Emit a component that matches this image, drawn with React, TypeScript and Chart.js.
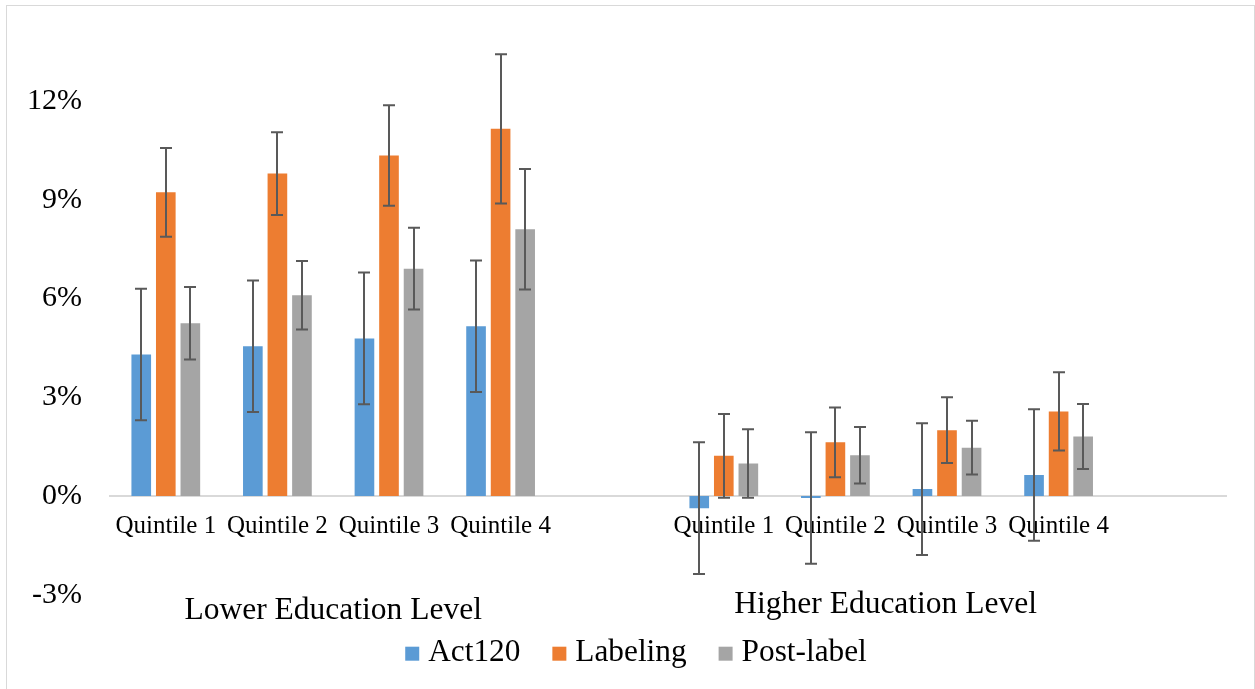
import React, { useEffect, useRef } from 'react';
import { Chart, registerables } from 'chart.js';

Chart.register(...registerables);

const categories = ['Quintile 1', 'Quintile 2', 'Quintile 3', 'Quintile 4', '', 'Quintile 1', 'Quintile 2', 'Quintile 3', 'Quintile 4', ''];
const groupLabels = ['Lower Education Level', 'Higher Education Level'];
const seriesNames = ['Act120', 'Labeling', 'Post-label'];
const seriesColors = ['#5B9BD5', '#ED7D31', '#A5A5A5'];

const act120 = [4.30, 4.55, 4.79, 5.16, null, -0.37, -0.06, 0.21, 0.64, null];
const act120Err = [2.0, 2.0, 2.0, 2.0, null, 2.0, 2.0, 2.0, 2.0, null];
const labeling = [9.23, 9.80, 10.35, 11.16, null, 1.22, 1.63, 2.00, 2.57, null];
const labelingErr = [1.35, 1.26, 1.53, 2.27, null, 1.27, 1.06, 1.00, 1.19, null];
const postLabel = [5.25, 6.10, 6.91, 8.11, null, 0.99, 1.24, 1.47, 1.81, null];
const postLabelErr = [1.10, 1.04, 1.24, 1.83, null, 1.04, 0.86, 0.82, 0.99, null];

const yTicks = [-3, 0, 3, 6, 9, 12];

const FONT = '"Liberation Serif", "Times New Roman", serif';

const errorBarPlugin = {
  id: 'errorBars',
  afterDatasetsDraw(chart: any) {
    const ctx = chart.ctx;
    const y = chart.scales.y;
    ctx.save();
    ctx.strokeStyle = '#595959';
    ctx.lineWidth = 2;
    chart.data.datasets.forEach((ds: any, di: number) => {
      const meta = chart.getDatasetMeta(di);
      meta.data.forEach((bar: any, i: number) => {
        const v = ds.data[i];
        const e = ds.errors[i];
        if (v == null || e == null) return;
        const top = y.getPixelForValue(v + e);
        const bot = y.getPixelForValue(v - e);
        const x = Math.round(bar.x);
        ctx.beginPath();
        ctx.moveTo(x, top);
        ctx.lineTo(x, bot);
        ctx.moveTo(x - 6, top);
        ctx.lineTo(x + 6, top);
        ctx.moveTo(x - 6, bot);
        ctx.lineTo(x + 6, bot);
        ctx.stroke();
      });
    });
    ctx.restore();
  },
};

const labelsPlugin = {
  id: 'groupAndLegend',
  afterDraw(chart: any) {
    const ctx = chart.ctx;
    const xs = chart.scales.x;
    const area = chart.chartArea;
    ctx.save();
    ctx.fillStyle = '#000';
    ctx.textBaseline = 'alphabetic';
    ctx.textAlign = 'center';
    ctx.font = `31.5px ${FONT}`;
    ctx.fillText(groupLabels[0], xs.getPixelForValue(1.5), area.bottom + 24);
    ctx.fillText(groupLabels[1], xs.getPixelForValue(6.45), area.bottom + 18);

    // legend
    ctx.font = `31.3px ${FONT}`;
    ctx.textAlign = 'left';
    const box = 14;
    const gapText = 9;
    const gapItem = 32;
    const widths = seriesNames.map((n) => ctx.measureText(n).width);
    const total = widths.reduce((a, b) => a + b, 0) + seriesNames.length * (box + gapText) + (seriesNames.length - 1) * gapItem;
    let x = 636 - total / 2;
    const baseline = area.bottom + 66;
    seriesNames.forEach((n, i) => {
      ctx.fillStyle = seriesColors[i];
      ctx.fillRect(x, baseline - box, box, box);
      x += box + gapText;
      ctx.fillStyle = '#000';
      ctx.fillText(n, x, baseline);
      x += widths[i] + gapItem;
    });
    ctx.restore();
  },
};

export default function App() {
  const ref = useRef<HTMLCanvasElement | null>(null);

  useEffect(() => {
    if (!ref.current) return;
    const chart = new Chart(ref.current, {
      type: 'bar',
      data: {
        labels: categories,
        datasets: [
          { label: seriesNames[0], data: act120, errors: act120Err, backgroundColor: seriesColors[0] } as any,
          { label: seriesNames[1], data: labeling, errors: labelingErr, backgroundColor: seriesColors[1] } as any,
          { label: seriesNames[2], data: postLabel, errors: postLabelErr, backgroundColor: seriesColors[2] } as any,
        ],
      },
      options: {
        responsive: false,
        animation: false,
        categoryPercentage: 0.66,
        barPercentage: 0.8,
        layout: { padding: { left: 0, right: 29, top: 2.5, bottom: 94.3 } },
        plugins: {
          legend: { display: false },
          tooltip: { enabled: false },
        },
        scales: {
          x: {
            position: { y: 0 } as any,
            offset: true,
            grid: { display: false, drawTicks: true, tickLength: 12 },
            border: { display: true, color: '#d9d9d9', width: 2 },
            afterFit: (scale: any) => {
              scale.height = 0;
            },
            ticks: {
              color: '#000',
              font: { family: FONT, size: 25 },
              maxRotation: 0,
              minRotation: 0,
              autoSkip: false,
            },
          },
          y: {
            min: -3,
            max: 15,
            grid: { display: false, drawTicks: false },
            border: { display: false },
            afterBuildTicks: (scale: any) => {
              scale.ticks = yTicks.map((v) => ({ value: v }));
            },
            afterFit: (scale: any) => {
              scale.width = 110;
              scale.paddingTop = 0;
              scale.paddingBottom = 0;
            },
            ticks: {
              padding: 28,
              color: '#000',
              font: { family: FONT, size: 30 },
              callback: (v: any) => `${v}%`,
            },
          },
        },
      },
      plugins: [errorBarPlugin, labelsPlugin],
    });
    return () => chart.destroy();
  }, []);

  return (
    <div style={{ position: 'fixed', left: 0, top: 0, width: 1255, height: 689, background: '#fff', overflow: 'hidden' }}>
      <div
        style={{
          position: 'absolute',
          left: 6,
          top: 5,
          width: 1249,
          height: 700,
          boxSizing: 'border-box',
          border: '1px solid #d9d9d9',
        }}
      />
      <canvas ref={ref} width={1255} height={689} style={{ position: 'absolute', left: 0, top: 0 }} />
    </div>
  );
}
